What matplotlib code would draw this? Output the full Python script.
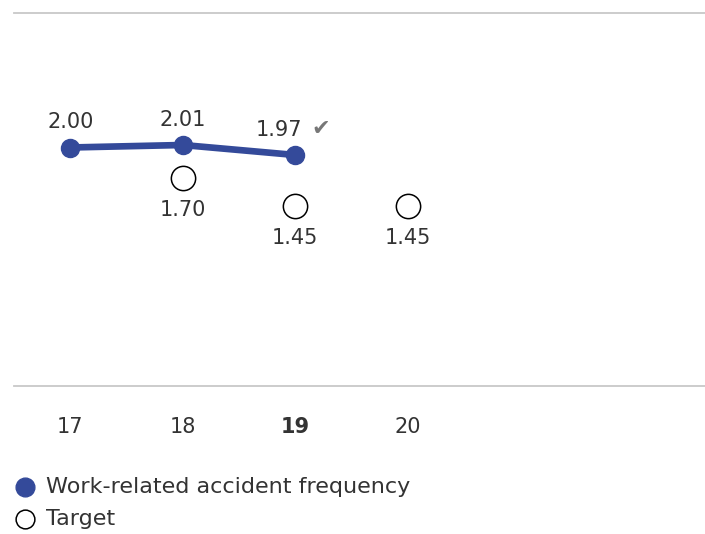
import matplotlib
matplotlib.use("Agg")
import matplotlib.pyplot as plt
from matplotlib.lines import Line2D

plt.rcParams['font.family'] = ['DejaVu Sans']

years = ["17", "18", "19", "20"]
actual = [2.00, 2.01, 1.97]
actual_labels = ["2.00", "2.01", "1.97"]
target_years_idx = [1, 2, 3]
target = [1.70, 1.45, 1.45]
target_labels = ["1.70", "1.45", "1.45"]

NAVY = "#344a9a"
TEXT = "#333333"
GRID = "#c8c8c8"
FS = 15

W, H = 705, 534
fig = plt.figure(figsize=(W / 100, H / 100), dpi=100)
left, right, top, bottom = 14, 705, 13, 386
ax = fig.add_axes([left / W, 1 - bottom / H, (right - left) / W, (bottom - top) / H])
ax.set_xlim(-0.5, -0.5 + (right - left) / 112.5)
ax.set_ylim(2.00 - 238.5 / 250, 2.00 + 134.5 / 250)

ax2 = ax.twinx()
ax2.set_ylim(1.70 - 208 / 112, 1.70 + 165 / 112)

for a in (ax, ax2):
    for s in ("left", "right"):
        a.spines[s].set_visible(False)
    a.set_yticks([])
ax.spines["top"].set_color(GRID)
ax.spines["bottom"].set_color(GRID)
ax.spines["top"].set_linewidth(1.3)
ax.spines["bottom"].set_linewidth(1.3)
ax2.spines["top"].set_visible(False)
ax2.spines["bottom"].set_visible(False)

xs = list(range(len(actual)))
ax.plot(xs, actual, color=NAVY, lw=4.8, marker="o", ms=13, solid_capstyle="round", zorder=3)
for i, (x, y, t) in enumerate(zip(xs, actual, actual_labels)):
    if i == len(xs) - 1:
        ax.annotate(t, (x, y), xytext=(5, 18), textcoords="offset points",
                    ha="right", va="center", fontsize=FS, color=TEXT)
        ax.annotate("\u2714", (x, y), xytext=(18, 19), textcoords="offset points",
                    ha="center", va="center", fontsize=16, color="#777777")
    else:
        ax.annotate(t, (x, y), xytext=(0, 18), textcoords="offset points",
                    ha="center", va="center", fontsize=FS, color=TEXT)

ax2.plot(target_years_idx, target, ls="none", marker="o", ms=17.5, mfc="white",
         mec="black", mew=1.1, zorder=3)
for x, y, t in zip(target_years_idx, target, target_labels):
    ax2.annotate(t, (x, y), xytext=(0, -23), textcoords="offset points",
                 ha="center", va="center", fontsize=FS, color=TEXT)

ax.set_xticks(range(len(years)))
ax.set_xticklabels(years, fontsize=FS, color=TEXT)
ax.tick_params(axis="x", length=0, pad=22.5)
ax.get_xticklabels()[2].set_fontweight("bold")

# legend
LFS = 16
fig.add_artist(Line2D([25 / W], [1 - 487 / H], transform=fig.transFigure, ls="none",
                      marker="o", ms=13.5, color=NAVY))
fig.text(46 / W, 1 - 487 / H, "Work-related accident frequency", fontsize=LFS,
         color=TEXT, va="center", ha="left")
fig.add_artist(Line2D([25 / W], [1 - 519 / H], transform=fig.transFigure, ls="none",
                      marker="o", ms=13.5, mfc="white", mec="black", mew=1.1))
fig.text(46 / W, 1 - 519 / H, "Target", fontsize=LFS, color=TEXT, va="center", ha="left")

fig.savefig("out.png", dpi=100)
